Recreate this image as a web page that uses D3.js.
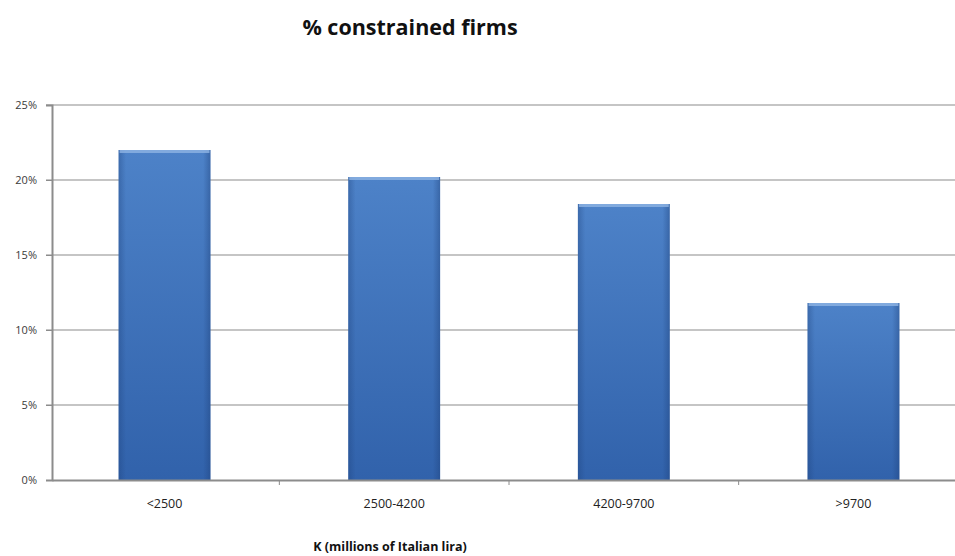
<!DOCTYPE html>
<html>
<head>
<meta charset="utf-8">
<script src="https://cdn.jsdelivr.net/npm/d3@7"></script>
<style>
    body { margin: 0; background: #fff; }
    svg { display: block; }
    .tick text { font-family: 'Open Sans', sans-serif; }
</style>
</head>
<body>
<svg id="chart" width="955" height="556"></svg>
<script>
const categories = ['<2500', '2500-4200', '4200-9700', '>9700'];
const shares = [0.220, 0.202, 0.184, 0.118];
const yTicks = [0, 0.05, 0.10, 0.15, 0.20, 0.25];

const svg = d3.select('#chart');
const plot = { left: 52, right: 966, top: 105, bottom: 480 };

const x = d3.scaleBand(categories, [plot.left, plot.right]).paddingInner(0.6).paddingOuter(0.29);
const y = d3.scaleLinear([0, 0.25], [plot.bottom, plot.top]);

// gradients for bars
const defs = svg.append('defs');
const gv = defs.append('linearGradient').attr('id', 'barV').attr('x1', 0).attr('x2', 0).attr('y1', 0).attr('y2', 1);
gv.append('stop').attr('offset', '0%').attr('stop-color', '#4d82c8');
gv.append('stop').attr('offset', '100%').attr('stop-color', '#3162ab');
const gh = defs.append('linearGradient').attr('id', 'barH');
gh.append('stop').attr('offset', '0%').attr('stop-color', '#1d3f78').attr('stop-opacity', 0.35);
gh.append('stop').attr('offset', '8%').attr('stop-color', '#1d3f78').attr('stop-opacity', 0);
gh.append('stop').attr('offset', '92%').attr('stop-color', '#1d3f78').attr('stop-opacity', 0);
gh.append('stop').attr('offset', '100%').attr('stop-color', '#1d3f78').attr('stop-opacity', 0.4);

// gridlines
svg.append('g')
    .selectAll('line')
    .data(yTicks.slice(1))
    .join('line')
    .attr('x1', plot.left - 6)
    .attr('x2', 955)
    .attr('y1', d => y(d))
    .attr('y2', d => y(d))
    .attr('stroke', '#8c8c8c')
    .attr('stroke-width', 1.2);

// y axis
const yAxis = d3.axisLeft(y).tickValues(yTicks).tickSize(6).tickPadding(9).tickFormat(d3.format('.0%'));
svg.append('g')
    .attr('transform', `translate(${plot.left},0)`)
    .call(yAxis)
    .call(g => g.select('.domain').attr('stroke', '#8c8c8c').attr('stroke-width', 2))
    .call(g => g.selectAll('.tick line').attr('stroke', '#8c8c8c'))
    .call(g => g.selectAll('.tick text').attr('font-size', 11).attr('fill', '#3a3a3a'));

// bars
const bars = svg.append('g');
bars.selectAll('rect.bar')
    .data(shares)
    .join('rect')
    .attr('class', 'bar')
    .attr('x', (d, i) => x(categories[i]))
    .attr('y', d => y(d))
    .attr('width', x.bandwidth())
    .attr('height', d => y(0) - y(d))
    .attr('fill', 'url(#barV)');
bars.selectAll('rect.shade')
    .data(shares)
    .join('rect')
    .attr('class', 'shade')
    .attr('x', (d, i) => x(categories[i]))
    .attr('y', d => y(d))
    .attr('width', x.bandwidth())
    .attr('height', d => y(0) - y(d))
    .attr('fill', 'url(#barH)');
bars.selectAll('rect.cap')
    .data(shares)
    .join('rect')
    .attr('class', 'cap')
    .attr('x', (d, i) => x(categories[i]) + 1)
    .attr('y', d => y(d))
    .attr('width', x.bandwidth() - 2)
    .attr('height', 3)
    .attr('fill', '#8fb4e3')
    .attr('opacity', 0.8);

// x axis
const xAxis = d3.axisBottom(x).tickSize(0).tickPadding(19);
svg.append('g')
    .attr('transform', `translate(0,${plot.bottom})`)
    .call(xAxis)
    .call(g => g.select('.domain').attr('stroke', '#8c8c8c').attr('stroke-width', 2))
    .call(g => g.selectAll('.tick text').attr('font-size', 12.5).attr('fill', '#222'));

// small separators between categories
svg.append('g')
    .selectAll('line')
    .data(categories.slice(1))
    .join('line')
    .attr('x1', d => x(d) - x.step() * x.paddingInner() / 2)
    .attr('x2', d => x(d) - x.step() * x.paddingInner() / 2)
    .attr('y1', plot.bottom)
    .attr('y2', plot.bottom + 5)
    .attr('stroke', '#8c8c8c');

// titles
svg.append('text')
    .attr('x', 410)
    .attr('y', 35)
    .attr('text-anchor', 'middle')
    .attr('font-family', "'Open Sans', sans-serif")
    .attr('font-weight', 'bold')
    .attr('font-size', 21.5)
    .attr('fill', '#111')
    .text('% constrained firms');

svg.append('text')
    .attr('x', 390)
    .attr('y', 551)
    .attr('text-anchor', 'middle')
    .attr('font-family', "'Open Sans', sans-serif")
    .attr('font-weight', 'bold')
    .attr('font-size', 12.5)
    .attr('fill', '#111')
    .text('K (millions of Italian lira)');
</script>
</body>
</html>
